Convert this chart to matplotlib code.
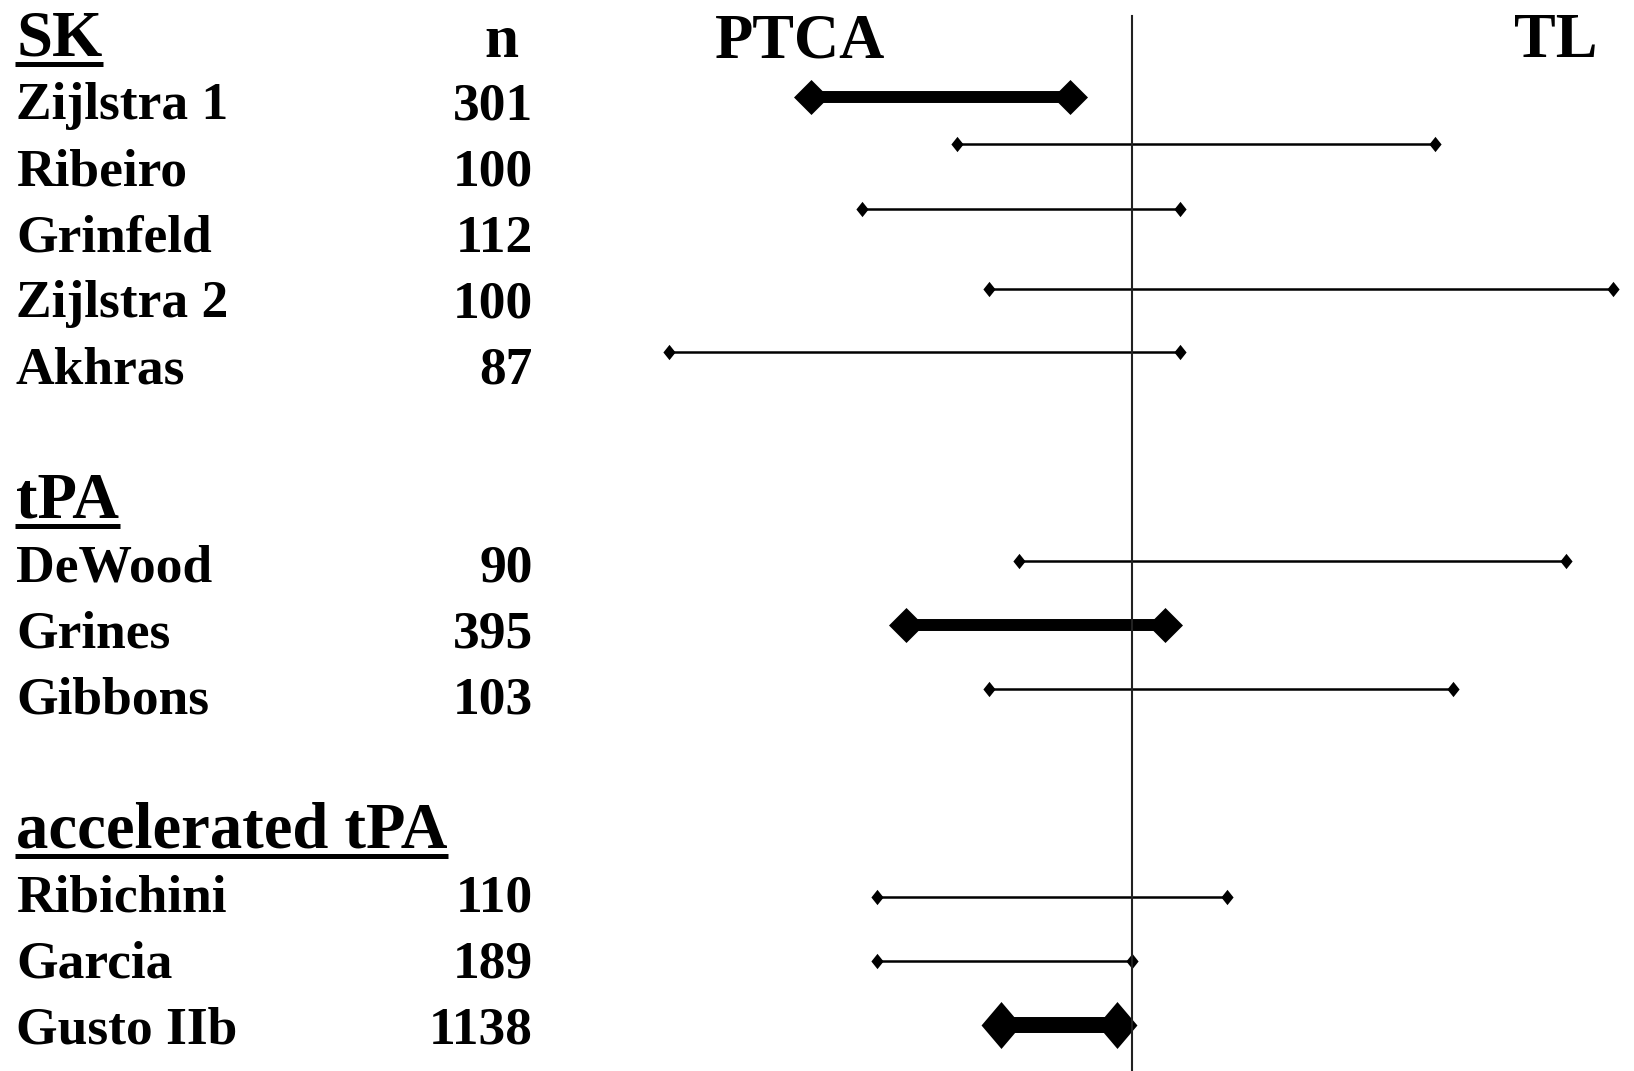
import matplotlib
matplotlib.use("Agg")
import matplotlib.pyplot as plt
import numpy as np

# ---------------- data ----------------
group_names = ["SK", "tPA", "accelerated tPA"]
group_sizes = [5, 3, 3]
studies = ["Zijlstra 1", "Ribeiro", "Grinfeld", "Zijlstra 2", "Akhras",
           "DeWood", "Grines", "Gibbons",
           "Ribichini", "Garcia", "Gusto IIb"]
n_patients = [301, 100, 112, 100, 87, 90, 395, 103, 110, 189, 1138]
# interval ends (reference line at 0)
ci_low = [-1.08, -0.59, -0.91, -0.48, -1.56, -0.38, -0.76, -0.48, -0.86, -0.86, -0.44]
ci_high = [-0.21, 1.02, 0.16, 1.62, 0.16, 1.46, 0.11, 1.08, 0.32, 0.00, -0.05]
# vertical placement of each interval (in row units)
interval_rows = [0.97, 1.68, 2.67, 3.88, 4.83, 8.0, 8.97, 9.94, 13.09, 14.06, 15.03]
left_label = "PTCA"
right_label = "TL"
n_header = "n"

# ---------------- figure ----------------
W, H, DPI = 1634, 1071, 100
fig = plt.figure(figsize=(W / DPI, H / DPI), dpi=DPI)
fig.patch.set_facecolor("white")

ROW0, STEP = 33.0, 66.0  # pixel centre of row 0, row spacing in px
ylim = ((H - ROW0) / STEP, (0 - ROW0) / STEP)

# text axes: x in pixels, y in rows
axt = fig.add_axes([0, 0, 1, 1])
axt.set_xlim(0, W)
axt.set_ylim(*ylim)
axt.axis("off")

# interval axes: x in effect units, y in rows
REF_PX, PX_PER_UNIT = 1132.0, 297.0
axi = fig.add_axes([0, 0, 1, 1])
axi.set_xlim((0 - REF_PX) / PX_PER_UNIT, (W - REF_PX) / PX_PER_UNIT)
axi.set_ylim(*ylim)
axi.axis("off")
axi.patch.set_alpha(0)

FONT = "Liberation Serif"
px = lambda p: p / STEP  # pixels -> rows

# layout rows
rows_heading = []
rows_study = []
r = 0
for g, size in zip(group_names, group_sizes):
    rows_heading.append(r)
    r += 1
    for _ in range(size):
        rows_study.append(r)
        r += 1
    r += 1

fig.canvas.draw()
renderer = fig.canvas.get_renderer()

# headings with underline
for g, hr in zip(group_names, rows_heading):
    t = axt.text(16, hr + px(22), g, fontsize=46.5, fontweight="bold",
                 family=FONT, ha="left", va="baseline", color="black")
    bb = t.get_window_extent(renderer=renderer)
    inv = axt.transData.inverted()
    (dx0, _), (dx1, _) = inv.transform([(bb.x0, 0), (bb.x1, 0)])
    uy = hr + px(22 + 8.5)
    axt.plot([dx0 - 1, dx1 + 1], [uy, uy], color="black", lw=3.6,
             solid_capstyle="butt")

# column header n and side labels
axt.text(501, px(57 - ROW0), n_header, fontsize=44, fontweight="bold",
         family=FONT, ha="center", va="baseline")
axt.text(800, px(57 - ROW0), left_label, fontsize=45, fontweight="bold",
         family=FONT, ha="center", va="baseline")
axt.text(1598, px(57 - ROW0), right_label, fontsize=45, fontweight="bold",
         family=FONT, ha="right", va="baseline")

# study labels & n
for name, n, sr in zip(studies, n_patients, rows_study):
    axt.text(16, sr + px(20.5), name, fontsize=38.5, fontweight="bold",
             family=FONT, ha="left", va="baseline")
    axt.text(533, sr + px(20.5), str(n), fontsize=38.5, fontweight="bold",
             family=FONT, ha="right", va="baseline")

# reference line
axi.plot([0, 0], [px(16 - ROW0), ylim[0]], color="#222222", lw=1.5, zorder=4)


def diamond(ratio):
    return [(0, 1), (ratio, 0), (0, -1), (-ratio, 0), (0, 1)]


def style_for(n):
    if n >= 1000:
        return dict(lw=11.5, ms=33.8, marker=diamond(0.85))
    if n >= 300:
        return dict(lw=8.6, ms=25.2, marker=diamond(1.0))
    return dict(lw=1.8, ms=11.0, marker=diamond(0.8))


for lo, hi, yr, n in zip(ci_low, ci_high, interval_rows, n_patients):
    st = style_for(n)
    axi.plot([lo, hi], [yr, yr], color="black", lw=st["lw"],
             solid_capstyle="butt", zorder=2)
    axi.plot([lo, hi], [yr, yr], linestyle="none", marker=st["marker"],
             ms=st["ms"], mew=0, color="black", zorder=3)

fig.savefig("out.png", dpi=DPI, facecolor="white")
